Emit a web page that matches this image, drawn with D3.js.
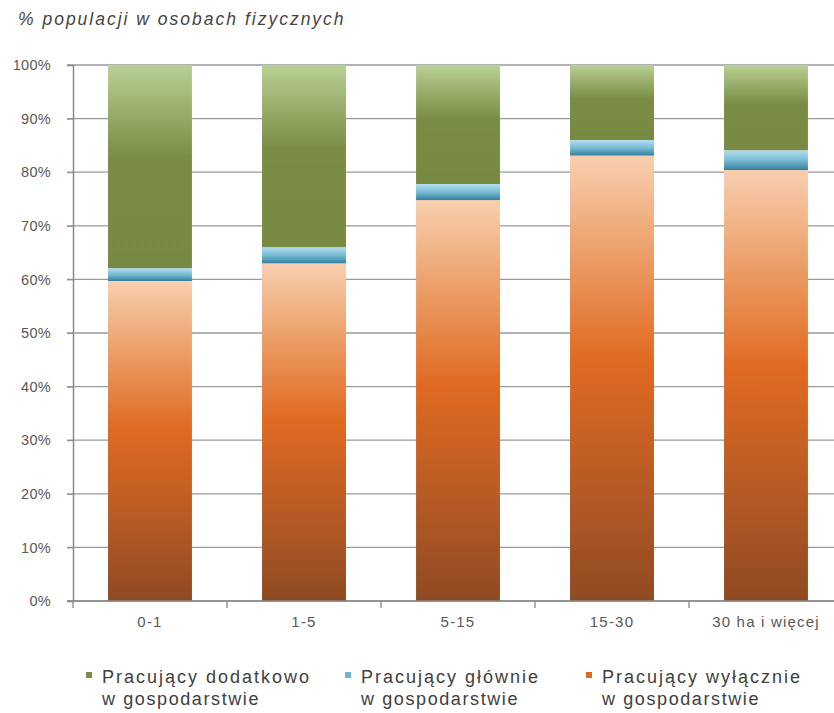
<!DOCTYPE html>
<html><head><meta charset="utf-8">
<script src="https://cdn.jsdelivr.net/npm/d3@7"></script>
<style>
body{margin:0;background:#fff;}
svg{display:block;font-family:"Liberation Sans",Arial,sans-serif;}
</style></head><body>
<svg id="c" width="834" height="713"></svg>
<script>
const categories = ["0-1", "1-5", "5-15", "15-30", "30 ha i więcej"];
const exclusively = [59.7, 63.0, 74.8, 83.1, 80.4];
const mainly = [2.4, 3.0, 3.0, 2.9, 3.7];
const additionally = [37.9, 34.0, 22.2, 14.0, 15.9];
const seriesNames = ["Pracujący wyłącznie w gospodarstwie", "Pracujący głównie w gospodarstwie", "Pracujący dodatkowo w gospodarstwie"];
const yTicks = [0, 10, 20, 30, 40, 50, 60, 70, 80, 90, 100];
const title = "% populacji w osobach fizycznych";

(function(){
const svg = d3.select("#c");
const mLeft = 73, mTop = 65, mBottom = 601, mRight = 843;
const x = d3.scaleBand().domain(categories).range([mLeft, mRight]).padding(0);
const y = d3.scaleLinear().domain([0, 100]).range([mBottom, mTop]);
const barW = x.bandwidth() * 0.545;

const defs = svg.append("defs");
function grad(id, stops) {
  const g = defs.append("linearGradient").attr("id", id).attr("x1", 0).attr("y1", 0).attr("x2", 0).attr("y2", 1);
  stops.forEach(s => g.append("stop").attr("offset", s[0]).attr("stop-color", s[1]));
}
grad("gOrange", [[0, "#f8cfb0"], [0.2, "#eda36e"], [0.46, "#e06a22"], [0.75, "#b65a25"], [1, "#8f4a22"]]);
grad("gBlue", [[0, "#b4def0"], [0.5, "#78bcd4"], [1, "#347f9e"]]);
grad("gGreen", [[0, "#b9d095"], [0.45, "#7b8d45"], [1, "#788a42"]]);

// gridlines
svg.append("g").selectAll("line").data(yTicks).join("line")
  .attr("x1", mLeft - 6).attr("x2", 834).attr("y1", d => y(d)).attr("y2", d => y(d))
  .attr("stroke", "#9a9a9a").attr("stroke-width", 1.3);

// y axis
const yAxis = d3.axisLeft(y).tickValues(yTicks).tickFormat(d => d + "%").tickSize(6).tickPadding(16);
const yg = svg.append("g").attr("transform", `translate(${mLeft},0)`).call(yAxis);
yg.select(".domain").attr("stroke", "#8a8a8a").attr("stroke-width", 1.5);
yg.selectAll(".tick line").attr("stroke", "#8a8a8a");
yg.selectAll(".tick text").attr("fill", "#595959").style("font-size", "14.5px").style("letter-spacing", "0.3px").style("font-family", "'Liberation Sans',Arial,sans-serif");

// stacked bars
const data = categories.map((c, i) => ({cat: c, ex: exclusively[i], ma: mainly[i], ad: additionally[i]}));
const stack = d3.stack().keys(["ex", "ma", "ad"])(data);
const fills = ["url(#gOrange)", "url(#gBlue)", "url(#gGreen)"];
stack.forEach((layer, li) => {
  svg.append("g").selectAll("rect").data(layer).join("rect")
    .attr("x", d => x(d.data.cat) + (x.bandwidth() - barW) / 2)
    .attr("width", barW)
    .attr("y", d => y(Math.min(d[1], 100)))
    .attr("height", d => y(d[0]) - y(Math.min(d[1], 100)))
    .attr("fill", fills[li]);
});

// x axis
const xAxis = d3.axisBottom(x).tickSize(0).tickPadding(15);
const xg = svg.append("g").attr("transform", `translate(0,${mBottom})`).call(xAxis);
xg.select(".domain").remove();
xg.selectAll(".tick text").attr("fill", "#595959").style("font-size", "15px").style("letter-spacing", "1.2px").style("font-family", "'Liberation Sans',Arial,sans-serif");
svg.append("line").attr("x1", mLeft - 6).attr("x2", 834).attr("y1", mBottom).attr("y2", mBottom)
  .attr("stroke", "#8a8a8a").attr("stroke-width", 1.5);
const boundaries = categories.map(c => x(c));
svg.append("g").selectAll("line").data(boundaries).join("line")
  .attr("x1", d => d).attr("x2", d => d).attr("y1", mBottom).attr("y2", mBottom + 7)
  .attr("stroke", "#8a8a8a").attr("stroke-width", 1.3);

// title
svg.append("text").attr("x", 18).attr("y", 25).text(title)
  .style("font-style", "italic").style("font-size", "17.5px").style("letter-spacing", "2px").attr("fill", "#444");

// legend
const legendItems = [
  {l1: "Pracujący dodatkowo", l2: "w gospodarstwie", color: "#7b8d45", x: 86},
  {l1: "Pracujący głównie", l2: "w gospodarstwie", color: "#6ab4cf", x: 345},
  {l1: "Pracujący wyłącznie", l2: "w gospodarstwie", color: "#e06a22", x: 586}
];
const lg = svg.append("g").selectAll("g").data(legendItems).join("g")
  .attr("transform", d => `translate(${d.x},0)`);
lg.append("rect").attr("x", 0).attr("y", 672).attr("width", 6).attr("height", 6).attr("fill", d => d.color);
lg.append("text").attr("x", 16).attr("y", 683).text(d => d.l1)
  .style("font-size", "18px").style("letter-spacing", "2px").attr("fill", "#404040");
lg.append("text").attr("x", 16).attr("y", 705).text(d => d.l2)
  .style("font-size", "18px").style("letter-spacing", "1.6px").attr("fill", "#404040");
})();
</script>
</body></html>
